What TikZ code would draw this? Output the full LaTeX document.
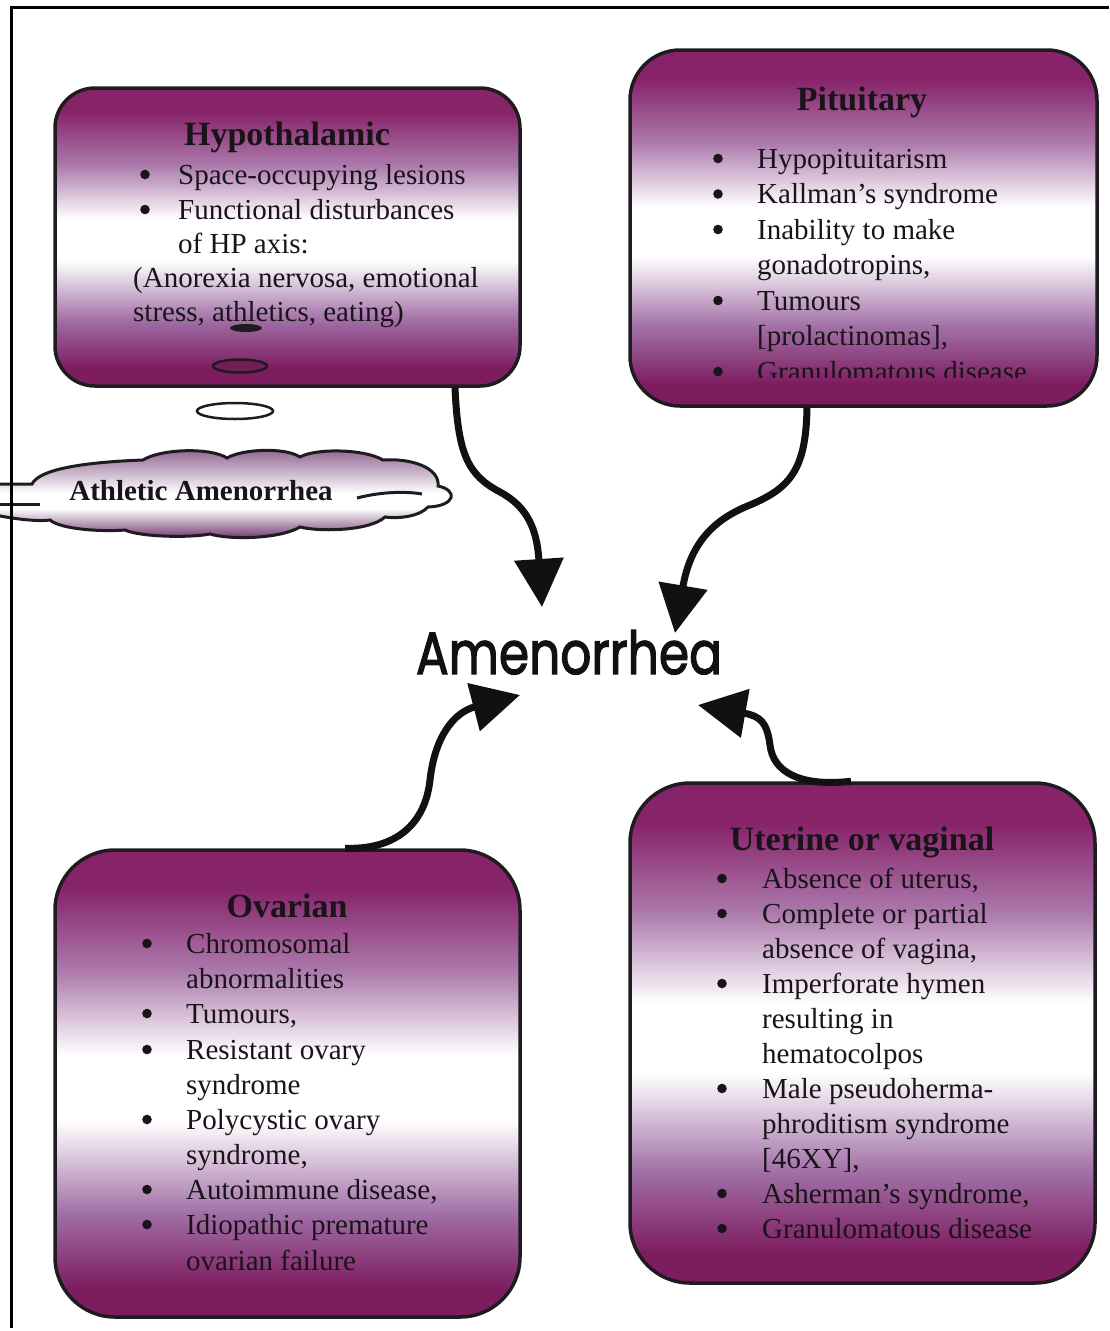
\documentclass[tikz,border=0pt]{standalone}
\usepackage{fontspec}
\setmainfont{Liberation Serif}
\newfontfamily\amenfont{Poppins}[FakeBold=2.2]
\usetikzlibrary{arrows.meta,calc}
\definecolor{pmT}{RGB}{135,35,105}
\definecolor{pmB}{RGB}{125,28,95}
\definecolor{lavT}{RGB}{172,122,172}
\definecolor{lavB}{RGB}{160,110,165}
\definecolor{bord}{RGB}{30,28,32}
\definecolor{txtc}{RGB}{25,20,25}
\definecolor{arrc}{RGB}{17,17,17}
\definecolor{clT}{RGB}{140,95,140}
\definecolor{clB}{RGB}{105,45,105}
\pgfdeclareverticalshading{boxgrad}{100bp}{color(0bp)=(pmB); color(25bp)=(pmB); color(28bp)=(pmB); color(36bp)=(lavB); color(46bp)=(white); color(53bp)=(white); color(62bp)=(lavT); color(71bp)=(pmT); color(75bp)=(pmT); color(100bp)=(pmT)}
\pgfdeclareverticalshading{cloudgrad}{100bp}{color(0bp)=(clB); color(25bp)=(clB); color(42bp)=(white); color(50bp)=(white); color(75bp)=(clT); color(100bp)=(clT)}
% #1 name, #2 text x, #3 baseline y, #4 bullet centre x, #5 text
\newcommand\bitem[5]{\fill[txtc] (#4,#3-9.5) circle [radius=4.8];
  \node[txt] (#1) at (#2,#3) {#5};}
\newcommand\pitem[4]{\node[txt] (#1) at (#2,#3) {#4};}
\begin{document}
\begin{tikzpicture}[x=1pt,y=-1pt,
  box/.style={rectangle, draw=bord, line width=3.5pt, shade, shading=boxgrad, inner sep=0pt},
  txt/.style={anchor=base west, inner sep=0pt, text=txtc, font=\fontsize{29}{35}\selectfont},
  ttl/.style={anchor=base, inner sep=0pt, text=txtc, font=\bfseries\fontsize{34}{40}\selectfont},
  conn/.style={line width=7pt, draw=arrc, -{Triangle[length=48pt,width=48pt]}},
  bub/.style={draw=bord, line width=2.5pt}]
\useasboundingbox (0,0) rectangle (1109,1331);

% boxes
\node[box, rounded corners=40pt, minimum width=465pt, minimum height=298pt] (hyp) at (287.5,237) {};
\node[box, rounded corners=50pt, minimum width=467pt, minimum height=356pt] (pit) at (863.5,228) {};
\node[box, rounded corners=60pt, minimum width=465pt, minimum height=467pt] (ovar) at (287.5,1083.5) {};
\node[box, rounded corners=60pt, minimum width=465pt, minimum height=500pt] (uter) at (862.5,1033) {};

% Hypothalamic
\node[ttl] (hypt) at (287,145) {Hypothalamic};
\bitem{h1}{178}{184}{145}{Space-occupying lesions}
\bitem{h2}{178}{219}{145}{Functional disturbances}
\pitem{h3}{178}{253}{of HP axis:}
\pitem{h4}{133}{287}{(Anorexia nervosa, emotional}
\pitem{h5}{133}{321}{stress, athletics, eating)}

% Pituitary
\node[ttl] (pitt) at (862,110) {Pituitary};
\begin{scope}
\clip (630,50) rectangle (1097,377);
\bitem{p1}{757}{168}{718}{Hypopituitarism}
\bitem{p2}{757}{203.5}{718}{Kallman’s syndrome}
\bitem{p3}{757}{239}{718}{Inability to make}
\pitem{p4}{757}{274.5}{gonadotropins,}
\bitem{p5}{757}{310}{718}{Tumours}
\pitem{p6}{757}{345.5}{[prolactinomas],}
\bitem{p7}{757}{381}{718}{Granulomatous disease.}
\end{scope}

% Ovarian
\node[ttl] (ovat) at (287,917) {Ovarian};
\bitem{o1}{186}{953}{147}{Chromosomal}
\pitem{o2}{186}{988}{abnormalities}
\bitem{o3}{186}{1023}{147}{Tumours,}
\bitem{o4}{186}{1059}{147}{Resistant ovary}
\pitem{o5}{186}{1094}{syndrome}
\bitem{o6}{186}{1129}{147}{Polycystic ovary}
\pitem{o7}{186}{1164}{syndrome,}
\bitem{o8}{186}{1199}{147}{Autoimmune disease,}
\bitem{o9}{186}{1234}{147}{Idiopathic premature}
\pitem{o10}{186}{1270}{ovarian failure}

% Uterine
\node[ttl] (utet) at (862,850) {Uterine or vaginal};
\bitem{u1}{762}{888}{722}{Absence of uterus,}
\bitem{u2}{762}{923}{722}{Complete or partial}
\pitem{u3}{762}{958}{absence of vagina,}
\bitem{u4}{762}{993}{722}{Imperforate hymen}
\pitem{u5}{762}{1028}{resulting in}
\pitem{u6}{762}{1063}{hematocolpos}
\bitem{u7}{762}{1098}{722}{Male pseudoherma-}
\pitem{u8}{762}{1133}{phroditism syndrome}
\pitem{u9}{762}{1168}{[46XY],}
\bitem{u10}{762}{1203}{722}{Asherman’s syndrome,}
\bitem{u11}{762}{1238}{722}{Granulomatous disease}

% thought bubbles
\fill[bord] (246,328) ellipse [x radius=16, y radius=4];
\filldraw[bub, fill=pmT!85!black] (240,366) ellipse [x radius=27, y radius=6.5];
\filldraw[bub, fill=white] (235,411) ellipse [x radius=38, y radius=8];

% cloud
\path[draw=bord, line width=3pt, shading=cloudgrad]
  (-5,484) -- (32,484)
  .. controls (40,468) and (90,462) .. (143,460)
  .. controls (160,449) and (210,447) .. (227,458)
  .. controls (242,449) and (285,447) .. (300,457)
  .. controls (316,448) and (365,449) .. (383,460)
  .. controls (412,458) and (440,468) .. (438,486)
  .. controls (458,490) and (456,506) .. (428,507)
  .. controls (420,516) and (400,519) .. (385,517)
  .. controls (370,531) and (320,532) .. (300,527)
  .. controls (280,539) and (230,540) .. (210,534)
  .. controls (190,538) and (140,537) .. (125,530)
  .. controls (100,532) and (60,529) .. (50,520)
  .. controls (35,522) and (10,518) .. (-5,515) -- cycle;
\draw[bord, line width=3pt] (-5,504) -- (40,504);
\draw[bord, line width=3pt] (357,498) .. controls (380,492) and (405,491) .. (422,494);
\node[anchor=base, inner sep=0pt, text=txtc, font=\bfseries\fontsize{29}{35}\selectfont] (cloudt) at (201,500) {Athletic Amenorrhea};

% centre
\node[anchor=base, inner sep=0pt, text=arrc] (amen) at (569,674) {\resizebox{306pt}{44pt}{\amenfont Amenorrhea}};

% connectors
\coordinate (t1) at (542,607);
\coordinate (t2) at (675,633);
\coordinate (t3) at (520,695);
\coordinate (t4) at (698,705);
\draw[conn] ($(hyp.south)+(167.5,0)$) .. controls (458,455) and (468,475) .. (500,492)
   .. controls (528,507) and (537,530) .. (t1);
\draw[conn] ($(pit.south)+(-56.5,0)$) .. controls (806,470) and (790,488) .. (750,505)
   .. controls (712,520) and (690,545) .. (t2);
\draw[conn] ($(ovar.north)+(57.5,0)$) .. controls (395,850) and (425,825) .. (430,780)
   .. controls (435,735) and (455,712) .. (t3);
\draw[conn] ($(uter.north)+(-11.5,0)$) .. controls (800,787) and (773,772) .. (770,745)
   .. controls (767,722) and (760,716) .. (t4);

% frame
\draw[line width=3pt, draw=black] (1109,7) -- (11,7) -- (11,1328);
\end{tikzpicture}
\end{document}
